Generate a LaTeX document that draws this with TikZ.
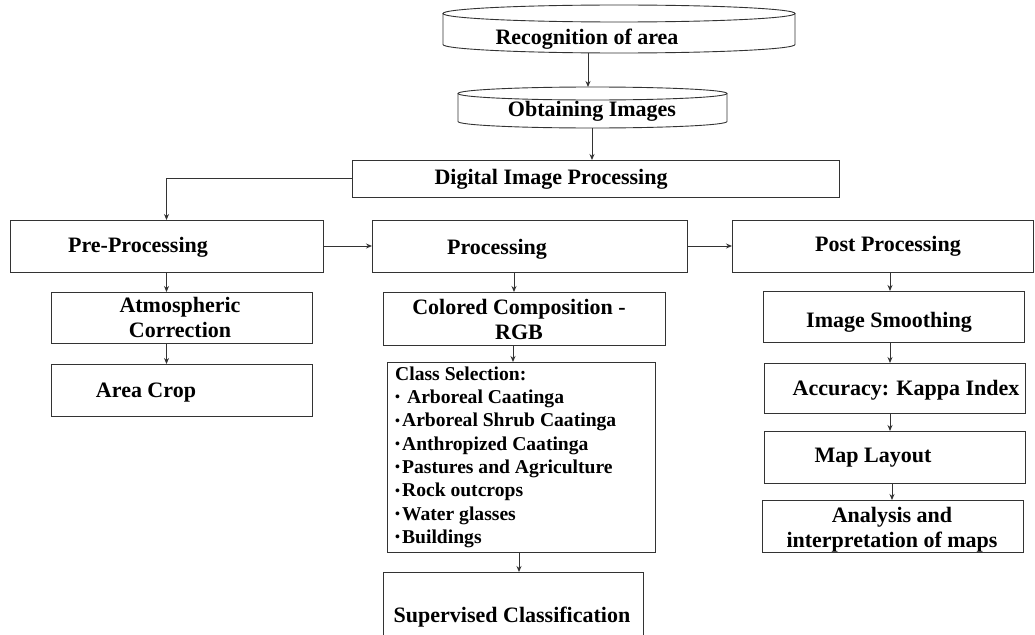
\documentclass[tikz,border=0pt]{standalone}
\usepackage{fontspec}
\setmainfont{Liberation Serif}
\usetikzlibrary{arrows.meta}
\newcommand{\blt}{\raisebox{0.18ex}{\fontsize{14}{14}\selectfont•}\hspace{2pt}}
\begin{document}
\begin{tikzpicture}[x=1pt,y=-1pt,
  line/.style={draw=black!80, line width=0.9pt},
  arr/.style={line, -{Stealth[length=6pt,width=5pt]}},
  box/.style={line, rectangle, inner sep=0, outer sep=0},
  hid/.style={rectangle, inner sep=0, outer sep=0},
  txt/.style={inner sep=0, align=center, font=\fontsize{22}{25}\selectfont\bfseries},
  lst/.style={inner sep=0, align=left, font=\fontsize{19.6}{23.3}\selectfont\bfseries},
]
\useasboundingbox (0,0) rectangle (1035,634);

% cylinders
\node[hid, minimum width=352pt, minimum height=48pt] (rec) at (619,29) {};
\draw[line] (619,13.5) ellipse [x radius=176pt, y radius=8.5pt];
\draw[line] (443,13.5) -- (443,44.5) arc[start angle=180, end angle=360, x radius=176pt, y radius=8.5pt] -- (795,13.5);
\node[txt] (recT) at (587,39) {Recognition of area};

\node[hid, minimum width=269pt, minimum height=41pt] (obt) at (592.5,107.5) {};
\draw[line] (592.5,93.5) ellipse [x radius=134.5pt, y radius=6.5pt];
\draw[line] (458,93.5) -- (458,121.5) arc[start angle=180, end angle=360, x radius=134.5pt, y radius=6.5pt] -- (727,93.5);
\node[txt] (obtT) at (592,111.5) {Obtaining Images};

% boxes
\node[box, minimum width=487pt, minimum height=37pt] (dip) at (595.5,178.5) {};
\node[txt] (dipT) at (551,179) {Digital Image Processing};

\node[box, minimum width=313pt, minimum height=52pt] (pre) at (166.5,246) {};
\node[txt] (preT) at (138,247.5) {Pre-Processing};
\node[box, minimum width=315pt, minimum height=52pt] (proc) at (529.5,246) {};
\node[txt] (procT) at (497,249) {Processing};
\node[box, minimum width=301pt, minimum height=52pt] (post) at (882.5,246) {};
\node[txt] (postT) at (888,246.5) {Post Processing};

\node[box, minimum width=261pt, minimum height=51pt] (atm) at (181.5,317.5) {};
\node[txt] (atmT) at (180,317.5) {Atmospheric\\Correction};
\node[box, minimum width=261pt, minimum height=52pt] (crop) at (181.5,390) {};
\node[txt] (cropT) at (146,393) {Area Crop};

\node[box, minimum width=282pt, minimum height=53pt] (col) at (524,318.5) {};
\node[txt] (colT) at (519,319.5) {Colored Composition -\\RGB};
\node[box, minimum width=268pt, minimum height=190pt] (cls) at (521,457) {};
\node[lst, anchor=north west] (clsT) at (395,366.5) {Class Selection:\\
\blt\hspace{5pt}Arboreal Caatinga\\
\blt Arboreal Shrub Caatinga\\
\blt Anthropized Caatinga\\
\blt Pastures and Agriculture\\
\blt Rock outcrops\\
\blt Water glasses\\
\blt Buildings};
\node[box, minimum width=260pt, minimum height=72pt] (sup) at (513,608) {};
\node[txt] (supT) at (512,617) {Supervised Classification};

\node[box, minimum width=261pt, minimum height=51pt] (img) at (893.5,316.5) {};
\node[txt] (imgT) at (889,322) {Image Smoothing};
\node[box, minimum width=261pt, minimum height=50pt] (acc) at (894.5,388) {};
\node[txt] (accT) at (906,390) {Accuracy: Kappa Index};
\node[box, minimum width=261pt, minimum height=52pt] (map) at (894.5,457) {};
\node[txt] (mapT) at (873,458) {Map Layout};
\node[box, minimum width=261pt, minimum height=52pt] (ana) at (892.5,526) {};
\node[txt] (anaT) at (892,530) {Analysis and\\interpretation of maps};

% connectors
\draw[arr] ([xshift=-31pt]rec.south) -- ([xshift=-31pt]rec.south |- obt.north);
\draw[arr] ([xshift=-0.5pt]obt.south) -- ([xshift=-0.5pt]obt.south |- dip.north);
\draw[arr] (dip.west) -| (pre.north);
\draw[arr] (pre.east) -- (proc.west);
\draw[arr] (proc.east) -- (post.west);
\draw[arr] (pre.south) -- (atm.north -| pre.south);
\draw[arr] (atm.south -| pre.south) -- (crop.north -| pre.south);
\draw[arr] ([xshift=-15.5pt]proc.south) -- ([xshift=-15.5pt]proc.south |- col.north);
\draw[arr] ([xshift=-11pt]col.south) -- ([xshift=-11pt]col.south |- cls.north);
\draw[arr] ([xshift=-2pt]cls.south) -- ([xshift=-2pt]cls.south |- sup.north);
\draw[arr] ([xshift=7.5pt]post.south) -- ([xshift=7.5pt]post.south |- img.north);
\draw[arr] ([xshift=-3.5pt]img.south) -- ([xshift=-3.5pt]img.south |- acc.north);
\draw[arr] ([xshift=-4.5pt]acc.south) -- ([xshift=-4.5pt]acc.south |- map.north);
\draw[arr] ([xshift=-2.5pt]map.south) -- ([xshift=-2.5pt]map.south |- ana.north);
\end{tikzpicture}
\end{document}
